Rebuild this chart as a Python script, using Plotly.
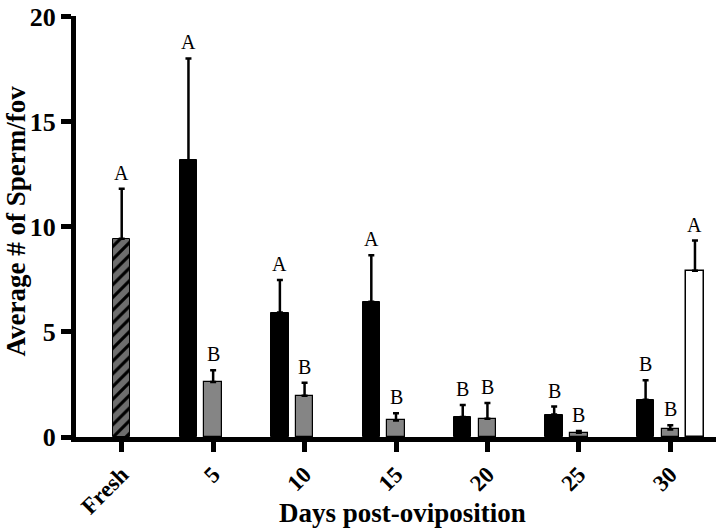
import plotly.graph_objects as go

categories = ["Fresh", "5", "10", "15", "20", "25", "30"]

fresh_cat = ["Fresh"]
fresh_mean = [9.43]
fresh_err = [2.37]
fresh_letter = ["A"]

day_cats = ["5", "10", "15", "20", "25", "30"]
black_mean = [13.15, 5.92, 6.43, 0.95, 1.07, 1.77]
black_err = [4.85, 1.55, 2.21, 0.57, 0.38, 0.93]
black_letter = ["A", "A", "A", "B", "B", "B"]

gray_mean = [2.61, 1.96, 0.79, 0.87, 0.20, 0.36]
gray_err = [0.56, 0.62, 0.34, 0.75, 0.09, 0.20]
gray_letter = ["B", "B", "B", "B", "B", "B"]

white_cat = ["30"]
white_mean = [7.91]
white_err = [1.43]
white_letter = ["A"]

BW = 0.19
SHIFT = 0.27
FONT = "Liberation Serif, Times New Roman, serif"

def err(a):
    return dict(type="data", symmetric=False, array=a, arrayminus=[0] * len(a),
                color="black", thickness=2.5, width=3)

fig = go.Figure()
fig.add_trace(go.Bar(x=fresh_cat, y=fresh_mean, width=BW, offset=-BW / 2,
                     marker=dict(color="#6e6e6e", line=dict(color="black", width=1),
                                 pattern=dict(shape="/", fgcolor="black", bgcolor="#6e6e6e",
                                              size=9, solidity=0.35, fillmode="replace")),
                     error_y=err(fresh_err), showlegend=False))
fig.add_trace(go.Bar(x=day_cats, y=black_mean, width=BW, offset=-SHIFT - BW / 2,
                     marker=dict(color="black", line=dict(color="black", width=1)),
                     error_y=err(black_err), showlegend=False))
fig.add_trace(go.Bar(x=day_cats, y=gray_mean, width=BW, offset=-BW / 2,
                     marker=dict(color="#858585", line=dict(color="black", width=1.2)),
                     error_y=err(gray_err), showlegend=False))
fig.add_trace(go.Bar(x=white_cat, y=white_mean, width=BW, offset=SHIFT - BW / 2,
                     marker=dict(color="white", line=dict(color="black", width=1.5)),
                     error_y=err(white_err), showlegend=False))

annotations = []
def add_letters(cats, means, errs, letters, shift):
    for c, m, e, l in zip(cats, means, errs, letters):
        annotations.append(dict(x=categories.index(c) + shift, y=m + e, xref="x", yref="y",
                                text=l, showarrow=False, yanchor="bottom", yshift=3,
                                font=dict(family=FONT, size=20, color="black")))

add_letters(fresh_cat, fresh_mean, fresh_err, fresh_letter, 0)
add_letters(day_cats, black_mean, black_err, black_letter, -SHIFT)
add_letters(day_cats, gray_mean, gray_err, gray_letter, 0)
add_letters(white_cat, white_mean, white_err, white_letter, SHIFT)

annotations.append(dict(x=0.51, y=-0.18, xref="paper", yref="paper", yanchor="middle",
                        text="<b>Days post-oviposition</b>", showarrow=False,
                        font=dict(family=FONT, size=27, color="black")))
annotations.append(dict(x=-0.094, y=0.514, xref="paper", yref="paper", textangle=-90,
                        text="<b>Average # of Sperm/fov</b>", showarrow=False,
                        xanchor="center", yanchor="middle",
                        font=dict(family=FONT, size=27, color="black")))

fig.update_layout(
    width=719, height=529,
    margin=dict(l=76, r=3, t=8, b=92),
    paper_bgcolor="white", plot_bgcolor="white",
    barmode="overlay", bargap=0,
    annotations=annotations,
    font=dict(family=FONT, color="black"),
)
fig.update_xaxes(type="category", categoryorder="array", categoryarray=categories,
                 range=[-0.5, 6.5], showline=True, linecolor="black", linewidth=5,
                 ticks="outside", ticklen=10, tickwidth=5, tickcolor="black",
                 tickangle=-45, showgrid=False, zeroline=False,
                 tickfont=dict(family=FONT, size=23, color="black", weight="bold"))
fig.update_yaxes(range=[0, 20.02], tickvals=[0, 5, 10, 15, 20], showline=True,
                 linecolor="black", linewidth=5, ticks="outside", ticklen=10,
                 tickwidth=5, tickcolor="black", showgrid=False, zeroline=False,
                 ticklabeloverflow="allow",
                 tickfont=dict(family=FONT, size=26, color="black", weight="bold"))

fig.write_html("out.html", config={"displayModeBar": False},
               post_script="document.body.style.margin='0';")
